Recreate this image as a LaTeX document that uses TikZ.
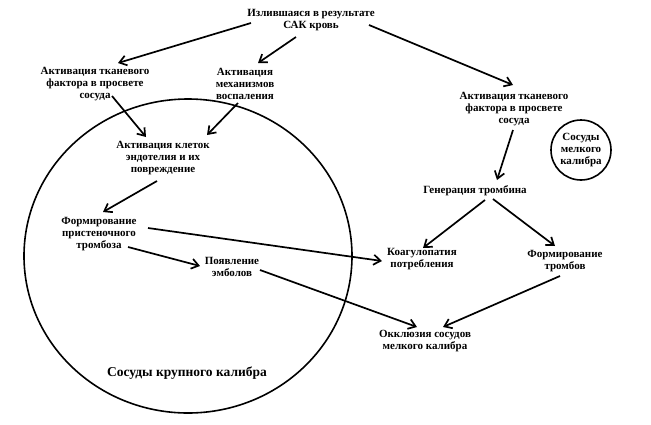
\documentclass[tikz,border=0pt]{standalone}
\usepackage{fontspec}
\setmainfont{Liberation Serif}
\usetikzlibrary{arrows.meta,shapes.geometric}

\begin{document}
\begin{tikzpicture}[
  x=1pt, y=-1pt,
  box/.style={align=center, font=\bfseries\fontsize{11}{12.3}\selectfont, inner sep=1pt},
  vessel/.style={draw, line width=1.6pt},
  arr/.style={-{Straight Barb[length=7pt,width=10pt]}, line width=1.7pt}
]
\useasboundingbox (0,0) rectangle (651,424);

% large vessels
\draw[vessel] (188,256) ellipse [x radius=164, y radius=157];
\node[box, font=\bfseries\fontsize{13.5}{15}\selectfont] (large) at (187,373) {Сосуды крупного калибра};

\node[box] (blood) at (311,20) {Излившаяся в результате\\САК кровь};
\node[box] (tfleft) at (95,84) {Активация тканевого\\фактора в просвете\\сосуда};
\node[box] (inflam) at (245,84) {Активация\\механизмов\\воспаления};
\node[box] (endo) at (163,158) {Активация клеток\\эндотелия и их\\повреждение};
\node[box] (mural) at (99,234) {Формирование\\пристеночного\\тромбоза};
\node[box] (emboli) at (232,267) {Появление\\эмболов};

% small vessels
\node[box, vessel, circle, minimum size=60pt, inner sep=0pt] (small) at (581,150) {Сосуды\\мелкого\\калибра};
\node[box] (tfright) at (514,109) {Активация тканевого\\фактора в просвете\\сосуда};
\node[box] (thrombin) at (475,191) {Генерация тромбина};
\node[box] (coag) at (422,259) {Коагулопатия\\потребления};
\node[box] (thrombi) at (565,261) {Формирование\\тромбов};
\node[box] (occl) at (425,341) {Окклюзия сосудов\\мелкого калибра};

\foreach \a/\ax/\ay/\b/\bx/\by in {
    blood/-60/3/tfleft/23/-21, blood/-15/17/inflam/13/-21,
    blood/58/5/tfright/-1/-24, tfleft/17/12/endo/-17/-21,
    inflam/-7/19/endo/44/-23, endo/-6/23/mural/4/-22,
    mural/29/13/emboli/-32/-1, mural/49/-6/coag/-40/2,
    emboli/28/3/occl/-8/-14, tfright/-1/21/thrombin/22/-11,
    thrombin/10/9/coag/1/-11, thrombin/18/8/thrombi/-10/-15,
    thrombi/-5/15/occl/18/-14}
  \draw[arr] ([shift={(\ax,\ay)}]\a.center) -- ([shift={(\bx,\by)}]\b.center);
\end{tikzpicture}
\end{document}
